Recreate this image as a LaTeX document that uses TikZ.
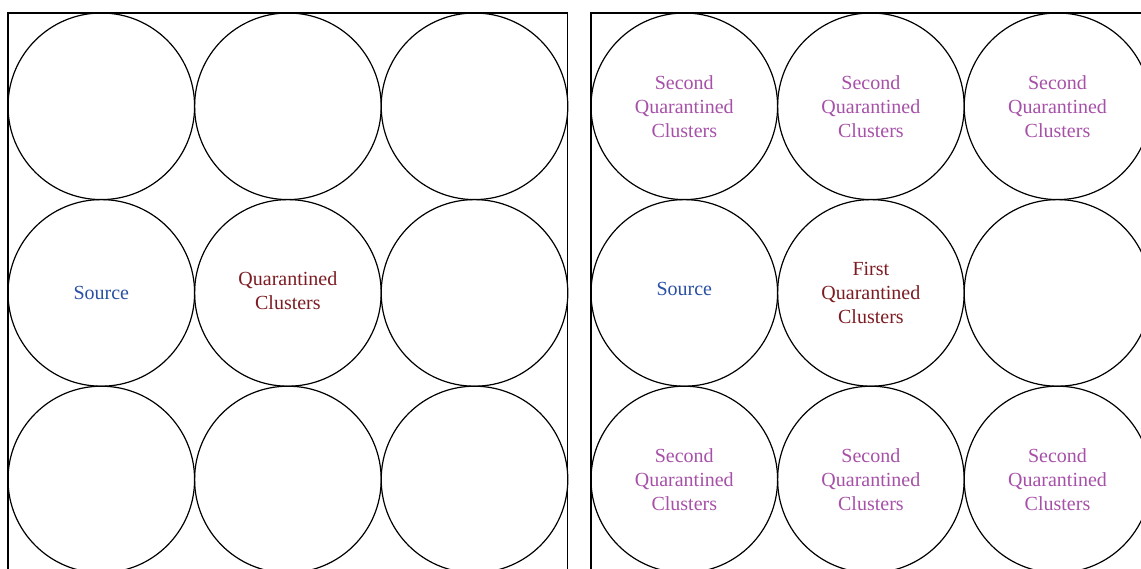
\documentclass[tikz,border=0pt]{standalone}
\usepackage{fontspec}
\setmainfont{Liberation Serif}
\usetikzlibrary{positioning}
\definecolor{SrcBlue}{HTML}{2A50A4}
\definecolor{QuarRed}{HTML}{7C1C22}
\definecolor{SecondPurple}{HTML}{A650A8}

\begin{document}
\begin{tikzpicture}[x=1pt,y=-1pt]
  \tikzstyle{cell}=[circle, draw, line width=1.2pt, minimum size=186.6pt, inner sep=0pt, outer sep=0pt]
  \tikzstyle{tag}=[align=center, inner sep=0pt, font=\fontsize{20}{24}\selectfont]
  \tikzstyle{frame}=[draw, line width=1.2pt]
  \useasboundingbox (0,0) rectangle (1141,569);
  \clip (0,0) rectangle (1141,569);
  % two frames
  \draw[frame] (8,13) rectangle (567.8,574);
  \draw[frame] (591,13) rectangle (1151,574);
  % circle grids
  \foreach \r in {0,1,2}
    \foreach \c in {0,1,2} {
      \node[cell] (L-\r-\c) at ({101.3+186.6*\c},{106.3+186.6*\r}) {};
      \node[cell] (R-\r-\c) at ({684.3+186.6*\c},{106.3+186.6*\r}) {};
    }
  % left labels
  \node[tag, text=SrcBlue] (lsrc) at (L-1-0) {Source};
  \node[tag, text=QuarRed, yshift=2pt] (lquar) at (L-1-1) {Quarantined\\Clusters};
  % right labels
  \node[tag, text=SrcBlue, yshift=4pt] (rsrc) at (R-1-0) {Source};
  \node[tag, text=QuarRed] (rfirst) at (R-1-1) {First\\Quarantined\\Clusters};
  \foreach \r/\c in {0/0,0/1,0/2,2/0,2/1,2/2}
    \node[tag, text=SecondPurple] (second-\r-\c) at (R-\r-\c) {Second\\Quarantined\\Clusters};
\end{tikzpicture}
\end{document}
